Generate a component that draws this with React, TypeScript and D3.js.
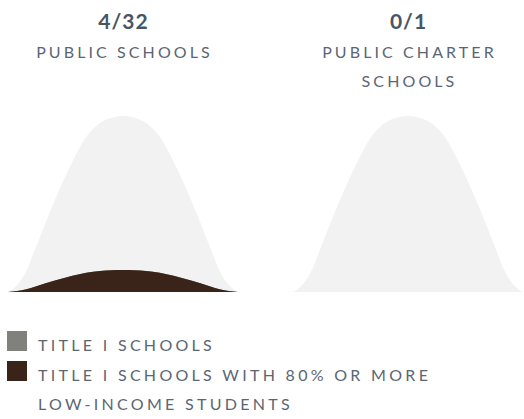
import React from "react";
import * as d3 from "d3";

const categoryLines: string[][] = [["PUBLIC SCHOOLS"], ["PUBLIC CHARTER", "SCHOOLS"]];
const totals = [32, 1];
const titleICounts = [4, 0];
const highPovertyCounts = [4, 0];
const legendLabels: string[][] = [["TITLE I SCHOOLS"], ["TITLE I SCHOOLS WITH 80% OR MORE", "LOW-INCOME STUDENTS"]];
const legendColors = ["#80817c", "#3a2419"];

// normalized half-profile of the bell glyph (position 0..0.5, relative height 0..1)
const bellU = [0, 0.04, 0.08, 0.12, 0.2, 0.28, 0.34, 0.4, 0.45, 0.5];
const bellH = [0, 0.04, 0.12, 0.25, 0.51, 0.74, 0.88, 0.96, 0.99, 1];

const W = 524, H = 419;
const chartLeft = [8, 293];
const chartWidth = 230;
const baseY = 292, topY = 116;

function bellPath(x0: number, frac: number) {
  const x = d3.scaleLinear().domain([0, 1]).range([x0, x0 + chartWidth]);
  const y = d3.scaleLinear().domain([0, 1]).range([baseY, topY]);
  const pts: [number, number][] = [];
  bellU.forEach((u, i) => pts.push([u, bellH[i] * frac]));
  for (let i = bellU.length - 2; i >= 0; i--) pts.push([1 - bellU[i], bellH[i] * frac]);
  const area = d3
    .area<[number, number]>()
    .x((d) => x(d[0]))
    .y0(y(0))
    .y1((d) => y(d[1]))
    .curve(d3.curveMonotoneX);
  return area(pts) || "";
}

export default function App() {
  const textColor = "#5b6673";
  return (
    <svg width={W} height={H} style={{ position: "absolute", left: 0, top: 0 }} fontFamily="Lato, 'Open Sans', sans-serif">
      {totals.map((t, i) => {
        const cx = chartLeft[i] + chartWidth / 2;
        return (
          <g key={i}>
            <text x={cx + 0.5} y={29} textAnchor="middle" fontSize={21} fontWeight={700} fill="#4a5562" letterSpacing={1}>
              {`${highPovertyCounts[i]}/${t}`}
            </text>
            {categoryLines[i].map((l, j) => (
              <text key={j} x={cx + 1.5} y={58 + j * 29} textAnchor="middle" fontSize={16} fill={textColor} letterSpacing={3.1}>
                {l}
              </text>
            ))}
            <path d={bellPath(chartLeft[i], 1)} fill="#f2f2f2" />
            {titleICounts[i] > 0 && <path d={bellPath(chartLeft[i], titleICounts[i] / t)} fill={legendColors[0]} />}
            {highPovertyCounts[i] > 0 && <path d={bellPath(chartLeft[i], highPovertyCounts[i] / t)} fill={legendColors[1]} />}
          </g>
        );
      })}
      {legendLabels.map((lines, i) => (
        <g key={i}>
          <rect x={7} y={331 + i * 30} width={20} height={20} fill={legendColors[i]} />
          {lines.map((l, j) => (
            <text key={j} x={38} y={351 + i * 30 + j * 29} fontSize={16} fill={textColor} letterSpacing={3.3}>
              {l}
            </text>
          ))}
        </g>
      ))}
    </svg>
  );
}
